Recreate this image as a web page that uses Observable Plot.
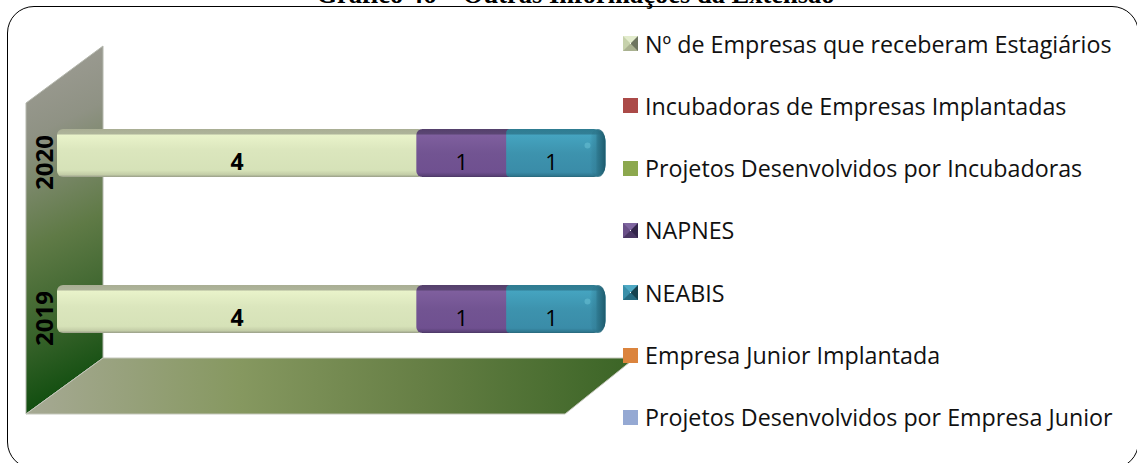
<!DOCTYPE html>
<html lang="pt">
<head>
<meta charset="utf-8">
<script src="https://cdn.jsdelivr.net/npm/d3@7"></script>
<script src="https://cdn.jsdelivr.net/npm/@observablehq/plot@0.6"></script>
<style>
html,body{margin:0;padding:0;background:#fff;overflow:hidden;width:1137px;height:463px;}
#stage{position:relative;width:1137px;height:463px;overflow:hidden;}
#stage svg{position:absolute;left:0;top:0;}
#border{position:absolute;left:7px;top:6px;width:1132px;height:463px;border:1.5px solid #000;border-radius:27px;box-sizing:border-box;}
#title{position:absolute;left:0;width:1151px;top:-21px;text-align:center;font:bold 26.5px "Liberation Serif",serif;color:#000;white-space:nowrap;}
.row{position:absolute;left:623px;height:24px;display:flex;align-items:center;font:23.25px "Open Sans",sans-serif;color:#111;white-space:nowrap;}
.sw{width:15px;height:15px;margin-right:7px;flex:none;box-sizing:border-box;}
</style>
</head>
<body>
<div id="stage">
  <div id="title"></div>
  <div id="border"></div>
</div>
<script>
const chartTitle = "Gráfico 46 – Outras Informações da Extensão";
const years = ["2020", "2019"];
const seriesNames = [
  "Nº de Empresas que receberam Estagiários",
  "Incubadoras de Empresas Implantadas",
  "Projetos Desenvolvidos por Incubadoras",
  "NAPNES",
  "NEABIS",
  "Empresa Junior Implantada",
  "Projetos Desenvolvidos por Empresa Junior"
];
const values2020 = [4, 0, 0, 1, 1, 0, 0];
const values2019 = [4, 0, 0, 1, 1, 0, 0];
const legendColors = ["#c9d6ac", "#ab4a48", "#8ca84e", "#654a85", "#2f8199", "#db843d", "#95a9d3"];
const beveled = [true, false, false, true, true, false, false];
const bevelEdges = [
  ["#e3eccd", "#6e7560", "#a9b190", "#c6d1ab"],
  null, null,
  ["#7f66a0", "#32254a", "#4a3764", "#6a5088"],
  ["#4fa9c4", "#16424f", "#256a80", "#3a8fa9"],
  null, null
];
const barStops = [
  [[0,"#a9ae94"],[.105,"#aeb49a"],[.125,"#e9f3ca"],[.45,"#dbe6bd"],[.86,"#d6e2b8"],[.95,"#c3cda7"],[1,"#999e88"]],
  null, null,
  [[0,"#54406b"],[.105,"#5c4674"],[.125,"#7f5f9e"],[.5,"#725492"],[.9,"#6f5090"],[.97,"#5b4278"],[1,"#4a3763"]],
  [[0,"#2e7c91"],[.105,"#337f96"],[.125,"#45a4c0"],[.5,"#3d93ae"],[.9,"#3a8ca8"],[.97,"#2f7890"],[1,"#286679"]],
  null, null
];

const rows = [];
years.forEach((year, yi) => {
  const vals = yi === 0 ? values2020 : values2019;
  seriesNames.forEach((s, i) => rows.push({year, series: s, value: vals[i]}));
});
const total = d3.sum(values2020);
const lastSeries = "NEABIS";
const barFills = seriesNames.map((s, i) => barStops[i] ? `url(#bar${i})` : legendColors[i]);

function defsMark() {
  const defs = d3.create("svg:defs");
  barStops.forEach((stops, i) => {
    if (!stops) return;
    const g = defs.append("linearGradient").attr("id", `bar${i}`).attr("x1", 0).attr("x2", 0).attr("y1", 0).attr("y2", 1);
    stops.forEach(([o, c]) => g.append("stop").attr("offset", o).attr("stop-color", c));
  });
  const cap = defs.append("linearGradient").attr("id", "cap").attr("x1", 0).attr("x2", 1).attr("y1", 0).attr("y2", 0);
  cap.append("stop").attr("offset", 0).attr("stop-color", "#1f5f72").attr("stop-opacity", 0);
  cap.append("stop").attr("offset", .35).attr("stop-color", "#2b7389").attr("stop-opacity", .35);
  cap.append("stop").attr("offset", .5).attr("stop-color", "#2b7389").attr("stop-opacity", .85);
  cap.append("stop").attr("offset", 1).attr("stop-color", "#1d5a6c").attr("stop-opacity", 1);
  const wall = defs.append("linearGradient").attr("id", "wall").attr("x1", 0).attr("y1", 0).attr("x2", .1).attr("y2", 1);
  [[0,"#a09e97"],[.25,"#8f9284"],[.55,"#5f7a46"],[.8,"#37622a"],[1,"#0f4d0e"]].forEach(([o,c]) => wall.append("stop").attr("offset", o).attr("stop-color", c));
  const floor = defs.append("linearGradient").attr("id", "floor").attr("x1", 0).attr("y1", .5).attr("x2", 1).attr("y2", .5);
  [[0,"#a6a994"],[.35,"#869860"],[.65,"#667f45"],[1,"#3a6425"]].forEach(([o,c]) => floor.append("stop").attr("offset", o).attr("stop-color", c));
  return defs.node();
}

function wallMark(index, {x}) {
  const g = d3.create("svg:g");
  const front = x(0) - 31, back = x(0) + 46, frontEnd = x(total) - 31, backEnd = x(total) + 39;
  const topBack = 46, topFront = 103, floorBack = 358, floorFront = 414;
  g.append("path").attr("d", `M${front},${topFront}L${back},${topBack}L${back},${floorBack}L${front},${floorFront}Z`)
    .attr("fill", "url(#wall)").attr("stroke", "#b5b8ae").attr("stroke-width", 1);
  g.append("path").attr("d", `M${back},${floorBack}L${backEnd},${floorBack}L${frontEnd},${floorFront}L${front},${floorFront}Z`)
    .attr("fill", "url(#floor)").attr("stroke", "#c4c7bb").attr("stroke-width", 1);
  return g.node();
}

const stackOpts = {y: "year", x: "value", z: "series", order: seriesNames};

const chart = Plot.plot({
  width: 1137,
  height: 463,
  marginLeft: 57,
  marginRight: 541,
  marginTop: 21,
  marginBottom: 22,
  style: {fontFamily: "'Open Sans',sans-serif", background: "transparent", color: "#000"},
  x: {domain: [0, total], axis: null},
  y: {domain: years, paddingInner: 0.692, paddingOuter: 0.692, axis: null},
  color: {type: "ordinal", domain: seriesNames, range: barFills},
  marks: [
    defsMark,
    wallMark,
    Plot.barX(rows, Plot.filter(d => d.value > 0 && d.series !== lastSeries, Plot.stackX({
      ...stackOpts, fill: "series", rx: 6, insetRight: -8
    }))),
    Plot.barX(years, {
      x1: () => total, x2: () => total, y: d => d,
      fill: `url(#bar${seriesNames.indexOf(lastSeries)})`, rx: 12, insetRight: -9.5, insetLeft: -18
    }),
    Plot.barX(rows, Plot.filter(d => d.value > 0 && d.series === lastSeries, Plot.stackX({
      ...stackOpts, fill: "series", rx: 4
    }))),
    Plot.barX(years, {
      x1: () => total, x2: () => total, y: d => d,
      fill: "url(#cap)", rx: 12, insetRight: -9.5, insetLeft: -6
    }),
    Plot.dot(years, {
      x: () => total, y: d => d, r: 3, dx: -9, dy: -8, fill: "#74c9dc", fillOpacity: .45
    }),
    Plot.text(rows, Plot.filter(d => d.value > 1, Plot.stackX({
      ...stackOpts, text: "value", dy: 9, fontSize: 23, fill: "#000", fontWeight: "bold"
    }))),
    Plot.text(rows, Plot.filter(d => d.value === 1, Plot.stackX({
      ...stackOpts, text: "value", dy: 9, fontSize: 22, fill: "#000"
    }))),
    Plot.axisY(years, {
      anchor: "left", tickSize: 0, tickRotate: -90, tickPadding: 5,
      fontSize: 24, fontWeight: "bold", dy: 9, label: null, fill: "#000"
    })
  ]
});
const stage = document.getElementById("stage");
stage.insertBefore(chart, document.getElementById("title"));
document.getElementById("title").textContent = chartTitle;

seriesNames.forEach((name, i) => {
  const row = document.createElement("div");
  row.className = "row";
  row.style.top = (31.5 + i * 62.3) + "px";
  const sw = document.createElement("div");
  sw.className = "sw";
  if (beveled[i]) {
    const [t, r, b, l] = bevelEdges[i];
    sw.style.border = "7.5px solid";
    sw.style.borderColor = `${t} ${r} ${b} ${l}`;
  } else {
    sw.style.background = legendColors[i];
  }
  row.appendChild(sw);
  const label = document.createElement("span");
  label.textContent = name;
  row.appendChild(label);
  stage.appendChild(row);
});
</script>
</body>
</html>
